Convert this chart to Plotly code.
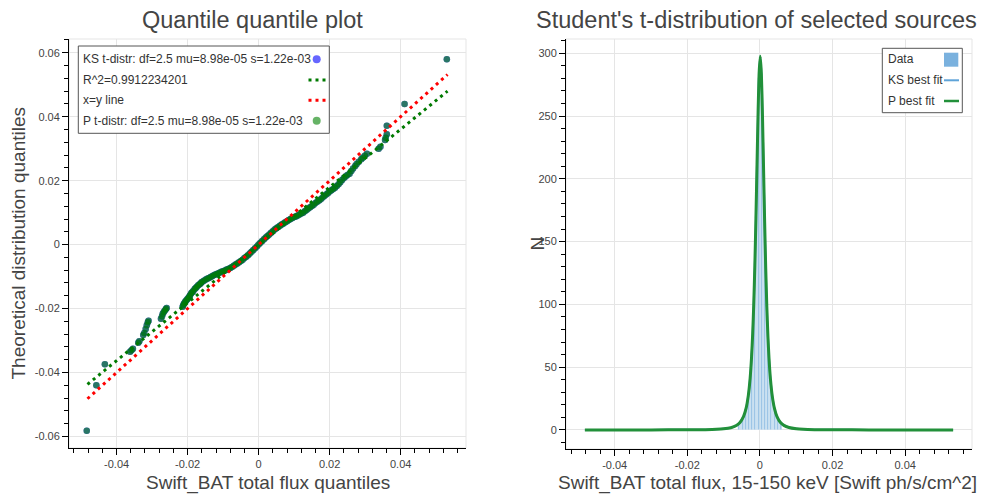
import plotly.graph_objects as go

# ---------------- data ----------------
# Q-Q plot: empirical quantiles of Swift_BAT total flux (x) vs theoretical
# t-distribution quantiles (y); KS and P fits share the same parameters.
qq_x = [
    -0.0484, -0.0457, -0.0433, -0.0362, -0.0358, -0.0354, -0.0339, -0.0336,
    -0.0325, -0.0322, -0.0318, -0.0315, -0.0312, -0.0310, -0.0275, -0.0272,
    -0.0270, -0.0267, -0.0264, -0.0261, -0.0259, -0.0214, -0.0212, -0.0210,
    -0.0207, -0.0204, -0.0201, -0.0198, -0.0195, -0.0193, -0.0190, -0.0187,
    -0.0184, -0.0180, -0.0177, -0.0174, -0.0170, -0.0166, -0.0163, -0.0160,
    -0.0155, -0.0150, -0.0145, -0.0140, -0.0135, -0.0130, -0.0125, -0.0120,
    -0.0115, -0.0110, -0.0105, -0.0100, -0.0095, -0.0090, -0.0085, -0.0080,
    -0.0075, -0.0070, -0.0065, -0.0060, -0.0055, -0.0050, -0.0045, -0.0040,
    -0.0035, -0.0030, -0.0025, -0.0020, -0.0015, -0.0010, -0.0005, 0.0000,
    0.0005, 0.0010, 0.0015, 0.0020, 0.0025, 0.0030, 0.0035, 0.0040,
    0.0045, 0.0050, 0.0055, 0.0060, 0.0065, 0.0070, 0.0075, 0.0080,
    0.0085, 0.0090, 0.0095, 0.0100, 0.0105, 0.0110, 0.0115, 0.0120,
    0.0125, 0.0130, 0.0135, 0.0140, 0.0145, 0.0150, 0.0155, 0.0160,
    0.0165, 0.0170, 0.0175, 0.0180, 0.0185, 0.0190, 0.0195, 0.0200,
    0.0205, 0.0210, 0.0215, 0.0220, 0.0225, 0.0230, 0.0235, 0.0240,
    0.0245, 0.0250, 0.0256, 0.0261, 0.0266, 0.0272, 0.0276, 0.0282,
    0.0289, 0.0293, 0.0299, 0.0305, 0.0338, 0.0343, 0.0356, 0.0358,
    0.0361, 0.0361, 0.0411, 0.0530,
]
qq_y = [
    -0.0582, -0.0440, -0.0374, -0.0335, -0.0330, -0.0326, -0.0307, -0.0302,
    -0.0283, -0.0276, -0.0264, -0.0252, -0.0243, -0.0238, -0.0232, -0.0224,
    -0.0216, -0.0211, -0.0206, -0.0201, -0.0198, -0.0194, -0.0189, -0.0184,
    -0.0179, -0.0175, -0.0171, -0.0167, -0.0162, -0.0158, -0.0152, -0.0149,
    -0.0145, -0.0139, -0.0136, -0.0132, -0.0127, -0.0124, -0.0121, -0.0117,
    -0.0114, -0.0110, -0.0107, -0.0104, -0.0101, -0.0098, -0.0095, -0.0093,
    -0.0090, -0.0088, -0.0085, -0.0083, -0.0081, -0.0078, -0.0076, -0.0073,
    -0.0070, -0.0066, -0.0062, -0.0059, -0.0055, -0.0051, -0.0047, -0.0042,
    -0.0038, -0.0033, -0.0028, -0.0022, -0.0017, -0.0011, -0.0006, 0.0000,
    0.0006, 0.0011, 0.0017, 0.0022, 0.0027, 0.0032, 0.0037, 0.0042,
    0.0047, 0.0051, 0.0055, 0.0059, 0.0063, 0.0066, 0.0070, 0.0073,
    0.0077, 0.0080, 0.0083, 0.0086, 0.0088, 0.0091, 0.0094, 0.0097,
    0.0100, 0.0104, 0.0108, 0.0113, 0.0117, 0.0121, 0.0125, 0.0130,
    0.0134, 0.0138, 0.0142, 0.0147, 0.0152, 0.0157, 0.0161, 0.0166,
    0.0170, 0.0174, 0.0178, 0.0183, 0.0189, 0.0195, 0.0202, 0.0208,
    0.0213, 0.0218, 0.0222, 0.0230, 0.0238, 0.0246, 0.0252, 0.0259,
    0.0267, 0.0272, 0.0278, 0.0284, 0.0300, 0.0306, 0.0327, 0.0334,
    0.0345, 0.0372, 0.0440, 0.0580,
]

# Reference lines: linear fit (R^2) and x = y, drawn between their end points
line_x = [-0.0482, 0.0532]
fit_y = [-0.0437, 0.0480]
xy_y = [-0.0482, 0.0532]

# Histogram of the selected sources (bin centres, counts per unit flux)
hist_x = [
    -0.0058, -0.0054, -0.0050, -0.0046, -0.0042, -0.0038, -0.0034, -0.0030,
    -0.0026, -0.0022, -0.0018, -0.0014, -0.0010, -0.0006, -0.0002, 0.0002,
    0.0006, 0.0010, 0.0014, 0.0018, 0.0022, 0.0026, 0.0030, 0.0034,
    0.0038, 0.0042, 0.0046, 0.0050, 0.0054, 0.0058,
]
hist_n = [
    4.6, 5.8, 7.4, 9.5, 12.4, 16.5, 22.2, 30.5,
    43.0, 61.5, 88.6, 127.0, 178.0, 235.0, 280.0, 290.0,
    258.0, 204.0, 149.0, 104.5, 72.5, 50.6, 35.8, 25.9,
    19.0, 14.1, 10.7, 8.3, 6.5, 5.1,
]
hist_width = 0.0004

# Best-fit Student's t curves (KS and P fits coincide)
fit_x = [
    -0.0482, -0.0300, -0.0200, -0.0150, -0.0120, -0.0100, -0.0080, -0.0065,
    -0.0055, -0.0045, -0.0038, -0.0032, -0.0027, -0.0023, -0.0020, -0.0017,
    -0.0014, -0.0011, -0.0008, -0.0005, -0.0002, 0.0001, 0.0004, 0.0007,
    0.0010, 0.0013, 0.0016, 0.0019, 0.0022, 0.0025, 0.0029, 0.0034,
    0.0040, 0.0047, 0.0056, 0.0066, 0.0080, 0.0100, 0.0120, 0.0150,
    0.0200, 0.0300, 0.0532,
]
fit_n = [
    0.0, 0.02, 0.08, 0.22, 0.46, 0.85, 1.78, 3.49,
    5.88, 10.75, 17.3, 27.3, 41.1, 58.2, 76.2, 100.0,
    130.8, 168.7, 211.6, 253.6, 285.2, 297.6, 283.7, 251.0,
    208.6, 165.9, 128.5, 98.2, 74.8, 57.2, 40.4, 26.9,
    17.1, 10.6, 6.15, 3.63, 1.92, 0.90, 0.48, 0.23,
    0.08, 0.02, 0.0,
]

# Tick labels
qq_xticks = [-0.04, -0.02, 0, 0.02, 0.04]
qq_xlabels = ["-0.04", "-0.02", "0", "0.02", "0.04"]
qq_yticks = [-0.06, -0.04, -0.02, 0, 0.02, 0.04, 0.06]
qq_ylabels = ["-0.06", "-0.04", "-0.02", "0", "0.02", "0.04", "0.06"]
hist_yticks = [0, 50, 100, 150, 200, 250, 300]
hist_ylabels = ["0", "50", "100", "150", "200", "250", "300"]

ks_label = "KS t-distr: df=2.5 mu=8.98e-05 s=1.22e-03"
r2_label = "R^2=0.9912234201"
xy_label = "x=y line"
p_label = "P t-distr: df=2.5 mu=8.98e-05 s=1.22e-03"

# ---------------- figure ----------------
W, H = 983, 495
FONT = "Liberation Sans, Arial, Helvetica, sans-serif"
TXT = "#444444"
GRID = "#e5e5e5"


def fx(p):
    return p / W


def fy(p):
    return 1 - p / H


fig = go.Figure()

# Q-Q points: KS first, P on top
fig.add_trace(go.Scatter(x=qq_x, y=qq_y, mode="markers", xaxis="x", yaxis="y",
                         marker=dict(size=6.5, color="rgba(0,0,255,0.6)", line=dict(width=0)),
                         name=ks_label))
fig.add_trace(go.Scatter(x=qq_x, y=qq_y, mode="markers", xaxis="x", yaxis="y",
                         marker=dict(size=6.5, color="rgba(0,128,0,0.6)", line=dict(width=0)),
                         name=p_label))
fig.add_trace(go.Scatter(x=line_x, y=fit_y, mode="lines", xaxis="x", yaxis="y",
                         line=dict(color="#007a00", width=3, dash="3px,4px"), name=r2_label))
fig.add_trace(go.Scatter(x=line_x, y=xy_y, mode="lines", xaxis="x", yaxis="y",
                         line=dict(color="#ff0000", width=3, dash="3px,4px"), name=xy_label))

# Histogram + fits
fig.add_trace(go.Bar(x=hist_x, y=hist_n, width=hist_width, xaxis="x2", yaxis="y2",
                     marker=dict(color="rgba(107,168,218,0.75)", line=dict(color="white", width=0.4)),
                     name="Data"))
fig.add_trace(go.Scatter(x=fit_x, y=fit_n, mode="lines", xaxis="x2", yaxis="y2",
                         line=dict(color="#5ea3d8", width=2, shape="spline", smoothing=0.6),
                         name="KS best fit"))
fig.add_trace(go.Scatter(x=fit_x, y=fit_n, mode="lines", xaxis="x2", yaxis="y2",
                         line=dict(color="#22903a", width=3, shape="spline", smoothing=0.6),
                         name="P best fit"))


def axis_style(**kw):
    base = dict(
        showgrid=True, gridcolor=GRID, gridwidth=1, zeroline=False,
        showline=True, linecolor="black", linewidth=1,
        ticks="outside", ticklen=6, tickcolor="black", tickwidth=1,
        tickfont=dict(family=FONT, size=11, color=TXT),
        tickmode="array",
    )
    base.update(kw)
    return base


xr = [-0.0534, 0.0584]
fig.update_layout(
    width=W, height=H, margin=dict(l=0, r=0, t=0, b=0),
    paper_bgcolor="white", plot_bgcolor="white", showlegend=False,
    font=dict(family=FONT, color=TXT),
    xaxis=axis_style(domain=[fx(69), fx(466)], anchor="y", range=xr,
                     tickvals=qq_xticks, ticktext=qq_xlabels,
                     minor=dict(tickmode="linear", tick0=0, dtick=0.004, ticks="outside",
                                ticklen=4, tickcolor="black", showgrid=False)),
    yaxis=axis_style(domain=[fy(448), fy(39)], anchor="x", range=[-0.0636, 0.0643],
                     tickvals=qq_yticks, ticktext=qq_ylabels,
                     minor=dict(tickmode="linear", tick0=0, dtick=0.004, ticks="outside",
                                ticklen=4, tickcolor="black", showgrid=False)),
    xaxis2=axis_style(domain=[fx(566), fx(972)], anchor="y2", range=xr,
                      tickvals=qq_xticks, ticktext=qq_xlabels,
                      minor=dict(tickmode="linear", tick0=0, dtick=0.004, ticks="outside",
                                 ticklen=4, tickcolor="black", showgrid=False)),
    yaxis2=axis_style(domain=[fy(449), fy(39)], anchor="x2", range=[-15.2, 311.4],
                      tickvals=hist_yticks, ticktext=hist_ylabels,
                      minor=dict(tickmode="linear", tick0=0, dtick=10, ticks="outside",
                                 ticklen=4, tickcolor="black", showgrid=False)),
    bargap=0,
)

shapes = []
# light outline around each plot frame
for xa, ya in (("x", "y"), ("x2", "y2")):
    shapes.append(dict(type="rect", xref=f"{xa} domain", yref=f"{ya} domain",
                       x0=0, x1=1, y0=0, y1=1, line=dict(color=GRID, width=1), layer="below"))

annotations = []


def text(x, y, s, size, color=TXT, xanchor="center", textangle=0):
    annotations.append(dict(
        x=fx(x), y=fy(y), xref="paper", yref="paper", text=s, showarrow=False,
        xanchor=xanchor, yanchor="middle", textangle=textangle,
        font=dict(family=FONT, size=size, color=color),
    ))


# titles and axis labels
text(252, 20, "Quantile quantile plot", 23.5)
text(756, 20, "Student's t-distribution of selected sources", 23.5)
text(267.5, 483, "Swift_BAT total flux quantiles", 19)
text(767, 483, "Swift_BAT total flux, 15-150 keV [Swift ph/s/cm^2]", 19)
text(18, 243.5, "Theoretical distribution quantiles", 19, textangle=-90)
text(537, 243.5, "N", 19, textangle=-90)

# legend of the Q-Q plot
shapes.append(dict(type="rect", xref="paper", yref="paper", x0=fx(78.3), x1=fx(329.3),
                   y0=fy(133.3), y1=fy(46), line=dict(color="#555555", width=1),
                   fillcolor="white"))
rows = [59.3, 80, 100.3, 120.7]
for yy, lab in zip(rows, [ks_label, r2_label, xy_label, p_label]):
    text(80.7, yy, lab, 12, color="#333333", xanchor="left")
r = 4
shapes.append(dict(type="circle", xref="paper", yref="paper",
                   x0=fx(316.7 - r), x1=fx(316.7 + r), y0=fy(rows[0] + r), y1=fy(rows[0] - r),
                   fillcolor="rgba(0,0,255,0.6)", line=dict(width=0)))
shapes.append(dict(type="circle", xref="paper", yref="paper",
                   x0=fx(316.7 - r), x1=fx(316.7 + r), y0=fy(rows[3] + r), y1=fy(rows[3] - r),
                   fillcolor="rgba(0,128,0,0.6)", line=dict(width=0)))
shapes.append(dict(type="line", xref="paper", yref="paper", x0=fx(308.5), x1=fx(327),
                   y0=fy(rows[1]), y1=fy(rows[1]), line=dict(color="#007a00", width=3, dash="3px,4px")))
shapes.append(dict(type="line", xref="paper", yref="paper", x0=fx(308.5), x1=fx(327),
                   y0=fy(rows[2]), y1=fy(rows[2]), line=dict(color="#ff0000", width=3, dash="3px,4px")))

# legend of the histogram plot
shapes.append(dict(type="rect", xref="paper", yref="paper", x0=fx(882.3), x1=fx(962.3),
                   y0=fy(112.7), y1=fy(48.3), line=dict(color="#555555", width=1),
                   fillcolor="white"))
rows2 = [59.0, 80.3, 101.0]
for yy, lab in zip(rows2, ["Data", "KS best fit", "P best fit"]):
    text(886, yy, lab, 12, color="#333333", xanchor="left")
shapes.append(dict(type="rect", xref="paper", yref="paper", x0=fx(944), x1=fx(958.3),
                   y0=fy(66.7), y1=fy(52.7), fillcolor="rgba(107,168,218,0.9)", line=dict(width=0)))
shapes.append(dict(type="line", xref="paper", yref="paper", x0=fx(944), x1=fx(959),
                   y0=fy(rows2[1]), y1=fy(rows2[1]), line=dict(color="#5ea3d8", width=2)))
shapes.append(dict(type="line", xref="paper", yref="paper", x0=fx(944), x1=fx(959),
                   y0=fy(rows2[2]), y1=fy(rows2[2]), line=dict(color="#22903a", width=2.5)))

fig.update_layout(shapes=shapes, annotations=annotations)
fig.write_html("out.html")
